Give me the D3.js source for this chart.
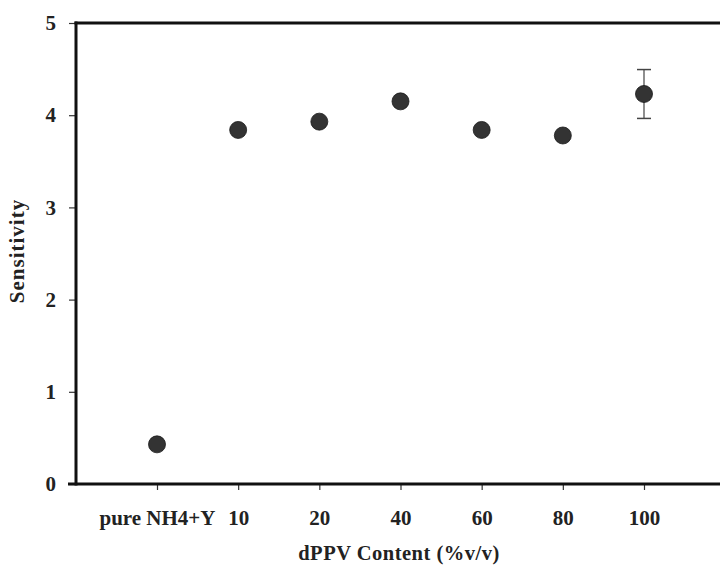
<!DOCTYPE html>
<html>
<head>
<meta charset="utf-8">
<script src="https://cdn.jsdelivr.net/npm/d3@7"></script>
<style>
  body { margin: 0; background: #fff; }
  svg text { font-family: "Liberation Serif", "DejaVu Serif", serif; fill: #222; }
</style>
</head>
<body>
<script>
// categories along the x axis (dPPV content)
const categories = ["pure NH4+Y", "10", "20", "40", "60", "80", "100"];
// sensitivity
const sensitivity = [0.43, 3.84, 3.93, 4.15, 3.84, 3.78, 4.23];
// error bar half-widths (only the 100% point shows one)
const errors = [0, 0, 0, 0, 0, 0, 0.265];
const yTicks = [0, 1, 2, 3, 4, 5];

const width = 720, height = 567;
const margin = { top: 23, right: 0, bottom: 83, left: 76 };

const svg = d3.select("body").append("svg")
    .attr("width", width)
    .attr("height", height);

const xScale = d3.scalePoint()
    .domain(categories)
    .range([157, 644]);

const yScale = d3.scaleLinear()
    .domain([0, 5])
    .range([height - margin.bottom, margin.top]);

const data = categories.map((c, i) => ({ cat: c, val: sensitivity[i], err: errors[i] }));

// y axis
const yAxis = svg.append("g")
    .attr("transform", `translate(${margin.left},0)`)
    .call(d3.axisLeft(yScale).tickValues(yTicks).tickSize(7).tickPadding(13).tickFormat(d3.format("d")));
yAxis.select(".domain").remove();
yAxis.selectAll("line").attr("stroke", "#333").attr("stroke-width", 1.2);
yAxis.selectAll("text")
    .style("font-size", "21px")
    .style("font-weight", "bold")
    .attr("fill", "#222");

// x axis
const xAxis = svg.append("g")
    .attr("transform", `translate(0,${yScale(0)})`)
    .call(d3.axisBottom(xScale).tickSize(6).tickPadding(20));
xAxis.select(".domain").remove();
xAxis.selectAll("line").attr("stroke", "#333").attr("stroke-width", 1.2);
xAxis.selectAll("text")
    .style("font-size", "21px")
    .style("font-weight", "bold")
    .attr("fill", "#222");

// frame lines (left, top, bottom) - thick like the scan
svg.append("line")
    .attr("x1", margin.left).attr("x2", margin.left)
    .attr("y1", yScale(5) - 1.5).attr("y2", yScale(0) + 1.5)
    .attr("stroke", "#111").attr("stroke-width", 3);
svg.append("line")
    .attr("x1", margin.left - 1.5).attr("x2", width)
    .attr("y1", yScale(5)).attr("y2", yScale(5))
    .attr("stroke", "#111").attr("stroke-width", 3);
svg.append("line")
    .attr("x1", 68).attr("x2", width)
    .attr("y1", yScale(0)).attr("y2", yScale(0))
    .attr("stroke", "#111").attr("stroke-width", 3);

// error bars
const eb = svg.append("g").selectAll("g")
    .data(data.filter(d => d.err > 0))
    .enter().append("g");
eb.append("line")
    .attr("x1", d => xScale(d.cat)).attr("x2", d => xScale(d.cat))
    .attr("y1", d => yScale(d.val + d.err)).attr("y2", d => yScale(d.val - d.err))
    .attr("stroke", "#444").attr("stroke-width", 1.2);
eb.append("line")
    .attr("x1", d => xScale(d.cat) - 7).attr("x2", d => xScale(d.cat) + 7)
    .attr("y1", d => yScale(d.val + d.err)).attr("y2", d => yScale(d.val + d.err))
    .attr("stroke", "#444").attr("stroke-width", 1.5);
eb.append("line")
    .attr("x1", d => xScale(d.cat) - 7).attr("x2", d => xScale(d.cat) + 7)
    .attr("y1", d => yScale(d.val - d.err)).attr("y2", d => yScale(d.val - d.err))
    .attr("stroke", "#444").attr("stroke-width", 1.5);

// points
svg.append("g").selectAll("circle")
    .data(data)
    .enter()
    .append("circle")
    .attr("cx", d => xScale(d.cat))
    .attr("cy", d => yScale(d.val))
    .attr("r", 8.5)
    .attr("fill", "#333")
    .attr("stroke", "#1a1a1a")
    .attr("stroke-width", 0.8);

// axis titles
svg.append("text")
    .attr("transform", `rotate(-90) translate(${-251},${24})`)
    .style("text-anchor", "middle")
    .style("font-size", "21px")
    .style("font-weight", "bold")
    .style("letter-spacing", "1px")
    .text("Sensitivity");

svg.append("text")
    .attr("x", 399)
    .attr("y", 560)
    .style("text-anchor", "middle")
    .style("font-size", "20.5px")
    .style("font-weight", "bold")
    .style("letter-spacing", "0.5px")
    .text("dPPV Content (%v/v)");
</script>
</body>
</html>
